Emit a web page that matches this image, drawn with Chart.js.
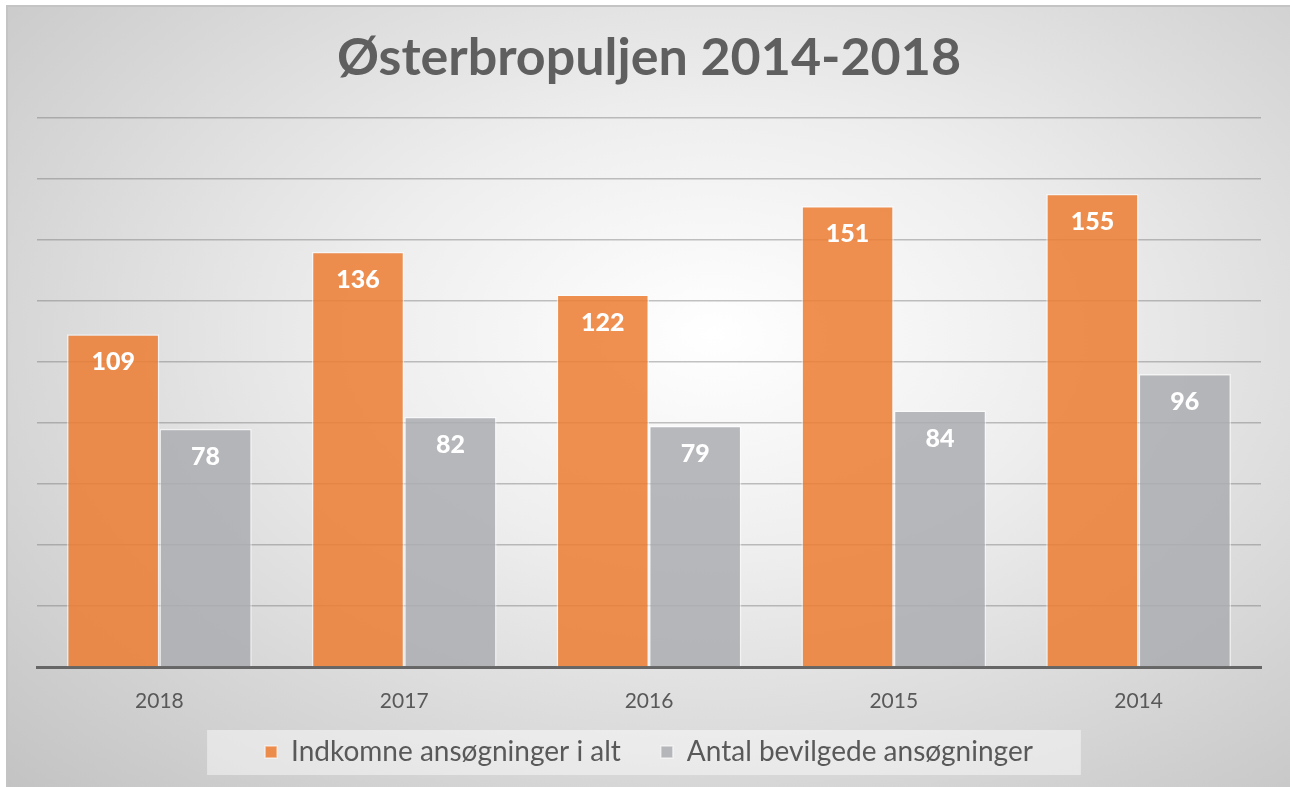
<!DOCTYPE html>
<html>
<head>
<meta charset="utf-8">
<script src="https://cdn.jsdelivr.net/npm/chart.js@4.4.1/dist/chart.umd.min.js"></script>
<style>
    html, body { margin: 0; padding: 0; background: #ffffff; }
    #frame {
        position: absolute;
        left: 6px; top: 5px;
        width: 1282px; height: 780px;
        border-top: 2px solid #c4c4c4;
        border-left: 2px solid #c4c4c4;
        background: radial-gradient(ellipse farthest-corner at 55% 42%, #ffffff 0%, #eeeeee 35%, #c3c3c3 100%);
    }
    canvas { display: block; }
</style>
</head>
<body>
<div id="frame"><canvas id="chart" width="1282" height="780"></canvas></div>
<script>
const years    = ['2018', '2017', '2016', '2015', '2014'];
const received = [109, 136, 122, 151, 155];
const granted  = [78, 82, 79, 84, 96];

const seriesNames = ['Indkomne ansøgninger i alt', 'Antal bevilgede ansøgninger'];
const titleText   = 'Østerbropuljen 2014-2018';

const LEGEND_FONT = 28;
const LEGEND_GAP  = 40;

// value labels inside top of each bar
const valueLabels = {
    id: 'valueLabels',
    afterDatasetsDraw(chart) {
        const ctx = chart.ctx;
        ctx.save();
        ctx.fillStyle = '#ffffff';
        ctx.font = '900 25px Lato';
        ctx.textAlign = 'center';
        ctx.textBaseline = 'middle';
        chart.data.datasets.forEach((ds, i) => {
            chart.getDatasetMeta(i).data.forEach((bar, j) => {
                ctx.fillText(String(ds.data[j]), bar.x, bar.y + 28);
            });
        });
        ctx.restore();
    }
};

// x axis is kept short so the legend sits close; let its labels draw below it
const axisRoom = {
    id: 'axisRoom',
    afterLayout(chart) {
        const x = chart.scales.x;
        x.bottom = x.top + 50;
    }
};

// light panel behind the legend
const legendPanel = {
    id: 'legendPanel',
    beforeDraw(chart) {
        const lg = chart.legend;
        if (!lg || !lg.lineWidths) return;
        const pad = lg.options.labels.padding;
        const lw = lg.lineWidths[0];
        const start = (lg.left + pad + lg.right - lw) / 2;
        const end = start + lw - pad;
        const cy = lg.top + pad + LEGEND_FONT / 2;
        const ctx = chart.ctx;
        ctx.save();
        ctx.fillStyle = 'rgba(255,255,255,0.45)';
        ctx.fillRect(start - 58, cy - 22, end - start + 106, 45);
        ctx.restore();
    }
};

new Chart(document.getElementById('chart'), {
    type: 'bar',
    data: {
        labels: years,
        datasets: [
            {
                label: seriesNames[0],
                data: received,
                backgroundColor: 'rgba(237,125,49,0.85)',
                borderColor: 'rgba(255,255,255,0.55)',
                borderWidth: 1.5
            },
            {
                label: seriesNames[1],
                data: granted,
                backgroundColor: 'rgba(172,173,178,0.85)',
                borderColor: 'rgba(255,255,255,0.55)',
                borderWidth: 1.5
            }
        ]
    },
    options: {
        responsive: false,
        animation: false,
        layout: { padding: { top: 20, left: 29, right: 29, bottom: 11 } },
        datasets: {
            bar: { categoryPercentage: 0.755, barPercentage: 1.0 }
        },
        scales: {
            x: {
                grid: { display: false, drawTicks: false },
                border: { display: true, color: '#666666', width: 3 },
                ticks: {
                    color: '#595959',
                    font: { family: 'Lato', size: 21 },
                    padding: 22
                },
                afterFit: (scale) => { scale.height = 31; }
            },
            y: {
                min: 0,
                max: 180,
                ticks: { display: false, stepSize: 20 },
                grid: {
                    drawTicks: false,
                    lineWidth: 1.5,
                    color: (c) => c.tick && c.tick.value === 0 ? 'rgba(0,0,0,0)' : 'rgba(120,120,120,0.45)'
                },
                border: { display: false }
            }
        },
        plugins: {
            title: {
                display: true,
                text: titleText,
                color: '#5f5f5f',
                font: { family: 'Lato', size: 52, weight: 'bold', lineHeight: 1.2 },
                padding: { top: 0, bottom: 28 }
            },
            legend: {
                position: 'bottom',
                labels: {
                    color: '#595959',
                    font: { family: 'Lato', size: LEGEND_FONT },
                    boxWidth: 12,
                    boxHeight: 12,
                    padding: LEGEND_GAP
                }
            },
            tooltip: { enabled: false }
        }
    },
    plugins: [legendPanel, axisRoom, valueLabels]
});
</script>
</body>
</html>
